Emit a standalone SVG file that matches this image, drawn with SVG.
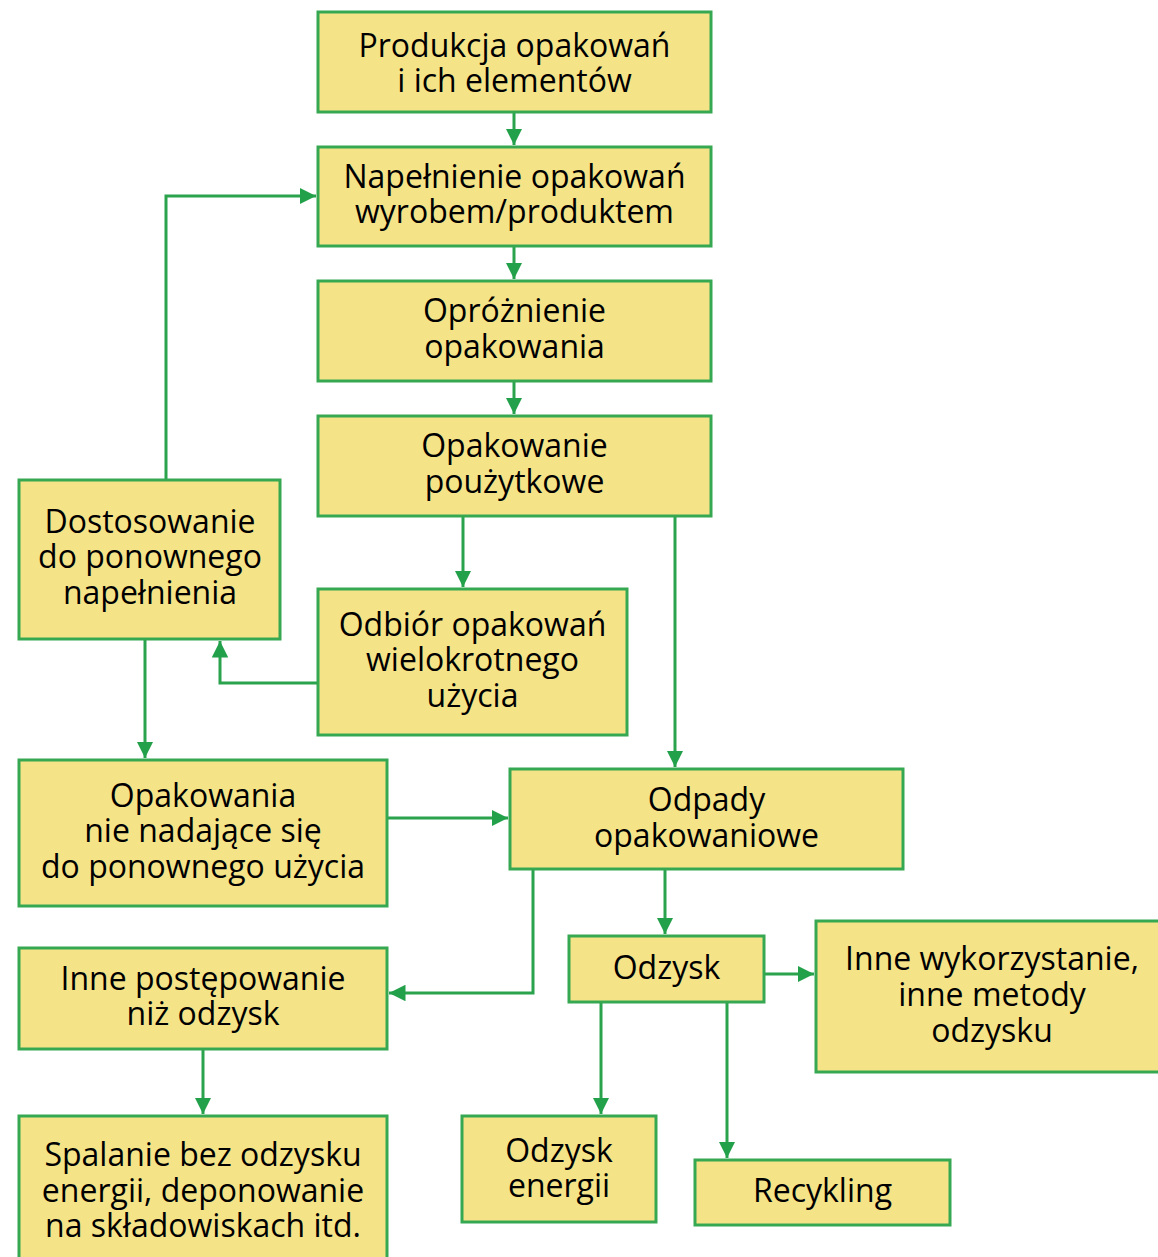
<svg xmlns="http://www.w3.org/2000/svg" width="1158" height="1257" viewBox="0 0 1158 1257">
<defs>
<style>
.box{fill:#F5E388;stroke:#37A852;stroke-width:3}
.t{font-family:"Open Sans","Noto Sans",sans-serif;font-size:32px;fill:#000;text-anchor:middle}
.c{fill:none;stroke:#2BA24C;stroke-width:3}
</style>
<marker id="ah" viewBox="0 0 10 10" refX="10" refY="5" markerWidth="5.5" markerHeight="5.5" markerUnits="strokeWidth" orient="auto">
<path d="M0,0 L10,5 L0,10 z" fill="#22A04A"/>
</marker>
</defs>
<rect width="1158" height="1257" fill="#fff"/>
<g id="connectors">
<path class="c" d="M514,112 V145" marker-end="url(#ah)"/>
<path class="c" d="M514,246 V279" marker-end="url(#ah)"/>
<path class="c" d="M514,381 V414" marker-end="url(#ah)"/>
<path class="c" d="M463,516 V587" marker-end="url(#ah)"/>
<path class="c" d="M675,516 V767" marker-end="url(#ah)"/>
<path class="c" d="M166,480 V196 H316" marker-end="url(#ah)"/>
<path class="c" d="M318,683 H220 V641" marker-end="url(#ah)"/>
<path class="c" d="M145,639 V758" marker-end="url(#ah)"/>
<path class="c" d="M387,818 H508" marker-end="url(#ah)"/>
<path class="c" d="M665,869 V934" marker-end="url(#ah)"/>
<path class="c" d="M533,869 V993 H389" marker-end="url(#ah)"/>
<path class="c" d="M764,974 H814" marker-end="url(#ah)"/>
<path class="c" d="M601,1002 V1114" marker-end="url(#ah)"/>
<path class="c" d="M727,1002 V1158" marker-end="url(#ah)"/>
<path class="c" d="M203,1049 V1114" marker-end="url(#ah)"/>
</g>
<g id="n1"><rect class="box" x="318" y="12" width="393" height="100"/>
<text class="t" x="514.5" y="57">Produkcja opakowań</text><text class="t" x="514.5" y="92">i ich elementów</text></g>
<g id="n2"><rect class="box" x="318" y="147" width="393" height="99"/>
<text class="t" x="514.5" y="188">Napełnienie opakowań</text><text class="t" x="514.5" y="223">wyrobem/produktem</text></g>
<g id="n3"><rect class="box" x="318" y="281" width="393" height="100"/>
<text class="t" x="514.5" y="322">Opróżnienie</text><text class="t" x="514.5" y="358">opakowania</text></g>
<g id="n4"><rect class="box" x="318" y="416" width="393" height="100"/>
<text class="t" x="514.5" y="457">Opakowanie</text><text class="t" x="514.5" y="493">poużytkowe</text></g>
<g id="n5"><rect class="box" x="19" y="480" width="261" height="159"/>
<text class="t" x="150" y="533">Dostosowanie</text><text class="t" x="150" y="568">do ponownego</text><text class="t" x="150" y="604">napełnienia</text></g>
<g id="n6"><rect class="box" x="318" y="589" width="309" height="146"/>
<text class="t" x="472.5" y="636">Odbiór opakowań</text><text class="t" x="472.5" y="671">wielokrotnego</text><text class="t" x="472.5" y="707">użycia</text></g>
<g id="n7"><rect class="box" x="19" y="760" width="368" height="146"/>
<text class="t" x="203" y="807">Opakowania</text><text class="t" x="203" y="842">nie nadające się</text><text class="t" x="203" y="878">do ponownego użycia</text></g>
<g id="n8"><rect class="box" x="510" y="769" width="393" height="100"/>
<text class="t" x="706.5" y="811">Odpady</text><text class="t" x="706.5" y="847">opakowaniowe</text></g>
<g id="n9"><rect class="box" x="19" y="948" width="368" height="101"/>
<text class="t" x="203" y="990">Inne postępowanie</text><text class="t" x="203" y="1025">niż odzysk</text></g>
<g id="n10"><rect class="box" x="569" y="936" width="195" height="66"/>
<text class="t" x="666.5" y="979">Odzysk</text></g>
<g id="n11"><rect class="box" x="816" y="921" width="345" height="151"/>
<text class="t" x="992" y="970">Inne wykorzystanie,</text><text class="t" x="992" y="1006">inne metody</text><text class="t" x="992" y="1042">odzysku</text></g>
<g id="n12"><rect class="box" x="19" y="1116" width="368" height="145"/>
<text class="t" x="203" y="1166">Spalanie bez odzysku</text><text class="t" x="203" y="1202">energii, deponowanie</text><text class="t" x="203" y="1237">na składowiskach itd.</text></g>
<g id="n13"><rect class="box" x="462" y="1116" width="194" height="106"/>
<text class="t" x="559" y="1162">Odzysk</text><text class="t" x="559" y="1197">energii</text></g>
<g id="n14"><rect class="box" x="695" y="1160" width="255" height="65"/>
<text class="t" x="822.5" y="1202">Recykling</text></g>
</svg>
